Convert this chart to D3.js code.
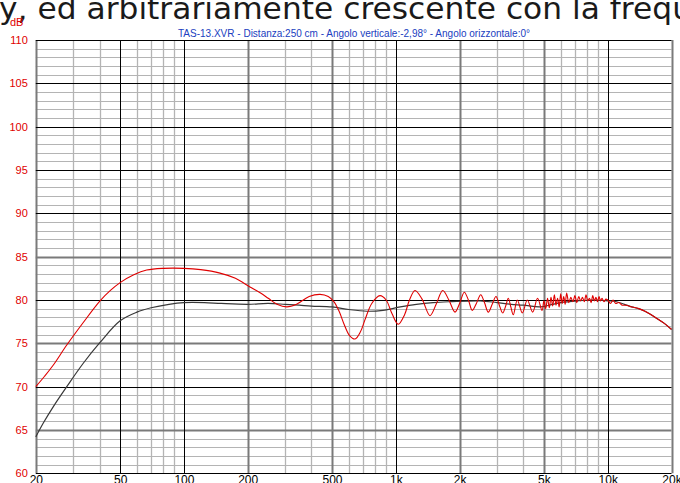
<!DOCTYPE html>
<html>
<head>
<meta charset="utf-8">
<script src="https://cdn.jsdelivr.net/npm/d3@7"></script>
<style>
  html, body { margin: 0; padding: 0; background: #ffffff; }
  svg { display: block; }
</style>
</head>
<body>
<script>
// ---------- data ----------
const headerText = "y, ed arbitrariamente crescente con la frequ";
const titleText = "TAS-13.XVR - Distanza:250 cm - Angolo verticale:-2,98° - Angolo orizzontale:0°";
const yUnit = "dB";

const xTickValues = [20, 50, 100, 200, 500, 1000, 2000, 5000, 10000, 20000];
const xTickLabels = ["20", "50", "100", "200", "500", "1k", "2k", "5k", "10k", "20k"];
const yTickValues = [60, 65, 70, 75, 80, 85, 90, 95, 100, 105, 110];

const gridFreqMinor = [30, 40, 60, 70, 80, 90, 300, 400, 600, 700, 800, 900, 3000, 4000, 6000, 7000, 8000, 9000];
const gridFreqMid = [20, 200, 500, 2000, 5000, 20000];
const gridFreqMajor = [50, 100, 1000, 10000];
const gridDbMinor = [61,62,63,64,66,67,68,69,71,72,73,74,76,77,78,79,81,82,83,84,86,87,88,89,91,92,93,94,96,97,98,99,101,102,103,104,106,107,108,109];
const gridDbMid = [65, 75, 85];
const gridDbMajor = [60, 70, 80, 90, 95, 100, 105, 110];

// black (smoothed) response
const blackFreq = [20, 21.7, 24.2, 28, 33.5, 40.2, 50, 60, 70, 85, 100, 125, 150, 200, 250, 300, 350, 400, 500, 600, 730, 870, 1050, 1250, 1500, 1800, 2500, 3000, 3500, 4000, 4800, 5500, 6000, 7200, 8500, 10000, 11000, 12000, 13000, 14000, 15000, 17000, 18500, 20000];
const blackDb   = [64.2, 65.8, 67.7, 70.0, 72.7, 75.1, 77.6, 78.6, 79.1, 79.5, 79.7, 79.7, 79.6, 79.5, 79.6, 79.5, 79.4, 79.3, 79.2, 78.9, 78.7, 78.8, 79.2, 79.5, 79.7, 79.8, 79.9, 79.7, 79.5, 79.4, 79.2, 79.5, 79.7, 79.9, 80.0, 79.9, 79.8, 79.5, 79.2, 79.0, 78.7, 77.9, 77.3, 76.6];

// red (raw) response
const redFreq = [20, 22, 24.2, 28, 33.5, 40.2, 45, 50, 58, 66.7, 80, 100, 120, 148, 175, 205, 230, 250, 275, 306, 340, 390, 439, 480, 510, 540, 570, 605, 642, 680, 715, 770, 842, 900, 960, 1027, 1100, 1160, 1232, 1330, 1450, 1550, 1665, 1780, 1903, 2000, 2105, 2200, 2296, 2400, 2516, 2620, 2732, 2850, 2970, 3080, 3194, 3300, 3394, 3490, 3584, 3744, 3954, 4174, 4426, 4665, 4898,
  5000, 5100, 5200, 5300, 5400, 5500, 5600, 5700, 5800, 5900, 6000, 6100, 6200, 6300, 6400, 6550, 6700, 6850, 7000, 7150, 7300, 7450, 7600, 7750, 7900, 8050, 8200, 8350, 8500, 8650, 8800, 8950, 9100, 9250, 9400, 9600, 9800,
  10000, 10300, 10600, 10900, 11300, 11700, 12200, 13000, 14000, 15000, 17000, 18500, 20000];
const redDb = [70.0, 71.2, 72.5, 74.8, 77.4, 79.9, 81.1, 82.0, 82.9, 83.45, 83.65, 83.65, 83.5, 83.1, 82.5, 81.5, 80.8, 80.2, 79.5, 79.2, 79.5, 80.4, 80.65, 80.4, 79.8, 78.7, 77.2, 75.9, 75.5, 76.3, 77.7, 79.6, 80.5, 80.0, 78.4, 77.2, 78.3, 80.0, 81.1, 80.1, 78.2, 79.5, 81.1, 80.0, 78.6, 79.6, 80.9, 80.0, 78.8, 79.6, 80.6, 79.7, 78.6, 79.5, 80.4, 79.4, 78.5, 79.3, 80.2, 79.2, 78.3, 80.0, 78.5, 80.0, 78.6, 80.2, 78.8,
  79.9, 79.0, 80.2, 79.1, 80.3, 79.3, 80.6, 79.4, 80.2, 79.2, 80.7, 79.6, 80.4, 79.5, 80.8, 79.7, 80.3, 79.8, 80.5, 79.7, 80.4, 79.9, 80.3, 79.8, 80.6, 79.9, 80.2, 79.7, 80.5, 79.9, 80.3, 79.8, 80.4, 79.9, 80.2, 79.8, 80.1,
  80.0, 79.6, 80.0, 79.6, 79.7, 79.4, 79.4, 79.2, 79.0, 78.7, 77.9, 77.3, 76.6];

// ---------- drawing ----------
const W = 680, H = 483;
const svg = d3.select("body").append("svg").attr("width", W).attr("height", H);

const x = d3.scaleLog().domain([20, 20000]).range([35.8, 671.5]);
const y = d3.scaleLinear().domain([60, 110]).range([473.3, 40]);
const x0 = x.range()[0], x1 = x.range()[1];
const y0 = y.range()[0], y1 = y.range()[1];

// header text (cropped page text)
svg.append("text")
  .attr("x", -1).attr("y", 19)
  .attr("font-family", "DejaVu Sans, Verdana, sans-serif")
  .attr("font-size", 30)
  .attr("fill", "#1a1a1a")
  .attr("textLength", 693)
  .attr("lengthAdjust", "spacingAndGlyphs")
  .text(headerText);

// title
svg.append("text")
  .attr("x", 354).attr("y", 37)
  .attr("text-anchor", "middle")
  .attr("font-family", "Liberation Sans Narrow, Liberation Sans, Arial, sans-serif")
  .attr("font-size", 11)
  .attr("fill", "#2040c0")
  .attr("textLength", 352)
  .attr("lengthAdjust", "spacingAndGlyphs")
  .text(titleText);

// dB unit
svg.append("text")
  .attr("x", 10).attr("y", 26)
  .attr("font-family", "Liberation Sans, Arial, sans-serif")
  .attr("font-size", 11)
  .attr("fill", "#e00000")
  .text(yUnit);

const grid = svg.append("g");
function hLines(vals, color, width) {
  grid.selectAll(null).data(vals).enter().append("line")
    .attr("x1", x0).attr("x2", x1)
    .attr("y1", d => Math.round(y(d)) + 0.5).attr("y2", d => Math.round(y(d)) + 0.5)
    .attr("stroke", color).attr("stroke-width", width);
}
function vLines(vals, color, width) {
  grid.selectAll(null).data(vals).enter().append("line")
    .attr("y1", y1).attr("y2", y0)
    .attr("x1", d => Math.round(x(d)) + 0.5).attr("x2", d => Math.round(x(d)) + 0.5)
    .attr("stroke", color).attr("stroke-width", width);
}
hLines(gridDbMinor, "#b4b4b4", 1);
vLines(gridFreqMinor, "#b4b4b4", 1.3);
hLines(gridDbMid, "#7a7a7a", 2);
vLines(gridFreqMid, "#7a7a7a", 2);
hLines(gridDbMajor, "#000000", 1);
vLines(gridFreqMajor, "#000000", 1);

// curves
const lineGen = d3.line()
  .x(d => x(d[0]))
  .y(d => y(d[1]))
  .curve(d3.curveCatmullRom.alpha(0.5));

const blackData = blackFreq.map((f, i) => [f, blackDb[i]]);
const redData = redFreq.map((f, i) => [f, redDb[i]]);

svg.append("path").datum(blackData)
  .attr("d", lineGen)
  .attr("fill", "none").attr("stroke", "#383838").attr("stroke-width", 1.2);
svg.append("path").datum(redData)
  .attr("d", lineGen)
  .attr("fill", "none").attr("stroke", "#e00000").attr("stroke-width", 1.1);

// axes (labels)
const xAxis = d3.axisBottom(x)
  .tickValues(xTickValues)
  .tickFormat((d, i) => xTickLabels[i])
  .tickSize(0).tickPadding(2);
const gx = svg.append("g").attr("transform", `translate(0,${y0})`).call(xAxis);
gx.select(".domain").remove();
gx.selectAll("text")
  .attr("font-family", "Liberation Sans, Arial, sans-serif")
  .attr("font-size", 12)
  .attr("fill", "#000");

const yAxis = d3.axisLeft(y)
  .tickValues(yTickValues)
  .tickFormat(d3.format("d"))
  .tickSize(0).tickPadding(8);
const gy = svg.append("g").attr("transform", `translate(${x0},0)`).call(yAxis);
gy.select(".domain").remove();
gy.selectAll("text")
  .attr("font-family", "Liberation Sans, Arial, sans-serif")
  .attr("font-size", 11)
  .attr("fill", "#e00000");
</script>
</body>
</html>
